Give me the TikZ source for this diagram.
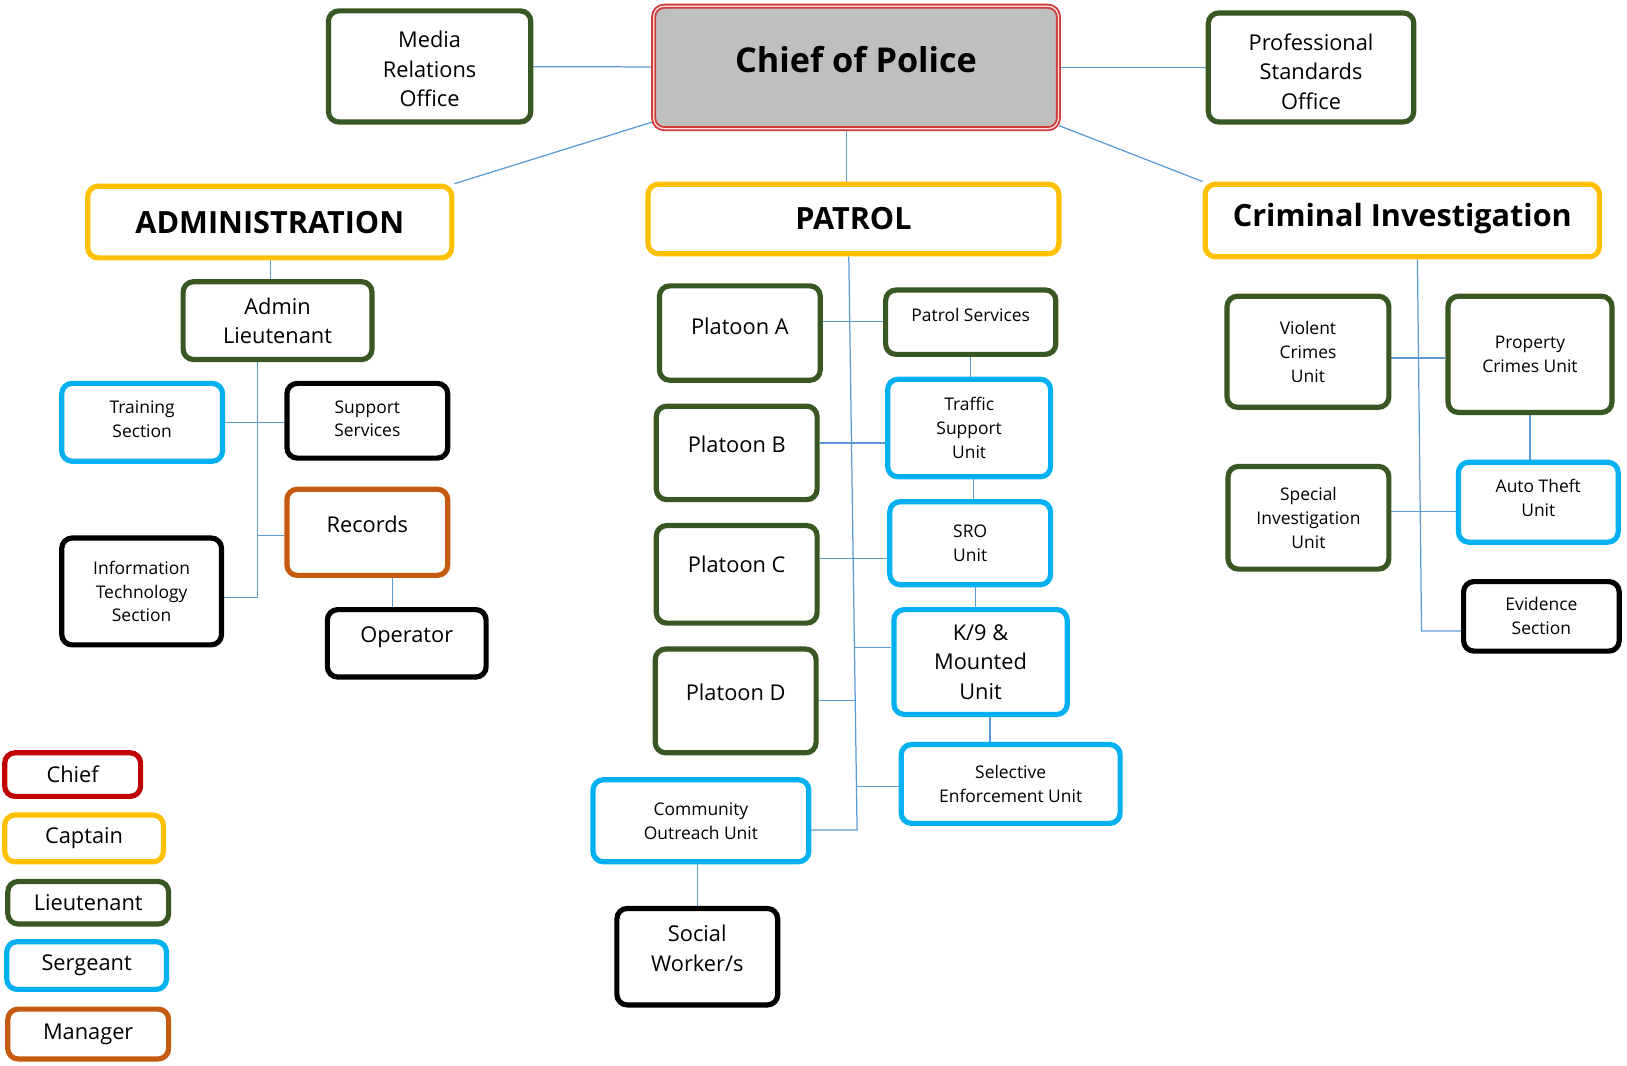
\documentclass[tikz,border=0pt]{standalone}
\usepackage{fontspec}
\setmainfont{Open Sans}
\usetikzlibrary{calc,backgrounds}

\definecolor{chiefred}{HTML}{D03A3A}
\definecolor{legendred}{HTML}{C00000}
\definecolor{cptyellow}{HTML}{FFC000}
\definecolor{ltgreen}{HTML}{385723}
\definecolor{sgtblue}{HTML}{00B0F0}
\definecolor{mgrorange}{HTML}{C55A11}
\definecolor{linkblue}{HTML}{5B9BD5}
\definecolor{chiefgray}{HTML}{BFBFBF}

\tikzset{
	unit/.style={rounded corners=10pt, line width=5pt, fill=white, inner sep=0pt, align=center},
	chiefbox/.style={unit, draw=chiefred, line width=1.8pt, double=white!85!chiefred, double distance=1.2pt, fill=chiefgray},
	ltbox/.style={unit, draw=ltgreen},
	cptbox/.style={unit, draw=cptyellow},
	sgtbox/.style={unit, draw=sgtblue},
	mgrbox/.style={unit, draw=mgrorange},
	civbox/.style={unit, draw=black},
	link/.style={draw=linkblue, line width=1.2pt},
	bigtxt/.style={font=\fontsize{21}{28.5}\selectfont},
	smalltxt/.style={font=\fontsize{16.8}{23}\selectfont},
	headtxt/.style={font=\bfseries\fontsize{29.5}{34}\selectfont},
	lift/.style={text depth=#1},
}

\begin{document}
\begin{tikzpicture}[x=1pt,y=1pt,yscale=-1,xscale=1]
			\useasboundingbox (0,0) rectangle (1568,1027);
			
			%Rounded Rect: Chief of Police
			\node[chiefbox, font=\bfseries\fontsize{33}{38}\selectfont, minimum width=390, minimum height=118, lift=16] (chief) at (825,65) {Chief of Police};
			%Rounded Rect: Media Relations Office
			\node[ltbox, bigtxt, minimum width=195, minimum height=107, text height=78] (media) at (414,64) {Media\\Relations\\Office};
			%Rounded Rect: Professional Standards Office
			\node[ltbox, bigtxt, minimum width=198, minimum height=105, text height=81] (prof) at (1263.5,65) {Professional\\Standards\\Office};
			
			%Rounded Rect: ADMINISTRATION
			\node[cptbox, headtxt, minimum width=351, minimum height=69] (admin) at (260,214) {ADMINISTRATION};
			%Rounded Rect: PATROL
			\node[cptbox, headtxt, minimum width=396, minimum height=67] (patrol) at (822.5,211) {PATROL};
			%Rounded Rect: Criminal Investigation
			\node[cptbox, headtxt, minimum width=380, minimum height=70, lift=11] (crim) at (1351.5,212.5) {Criminal Investigation};
			
			%Rounded Rect: Admin Lieutenant
			\node[ltbox, bigtxt, minimum width=182, minimum height=75] (adminlt) at (267.5,309) {Admin\\Lieutenant};
			%Rounded Rect: Training Section
			\node[sgtbox, smalltxt, minimum width=155, minimum height=75, lift=6] (train) at (137,407) {Training\\Section};
			%Rounded Rect: Support Services
			\node[civbox, smalltxt, minimum width=155, minimum height=72, lift=4] (support) at (354,405.5) {Support\\Services};
			%Rounded Rect: Records
			\node[mgrbox, bigtxt, minimum width=155, minimum height=83, lift=16] (records) at (354,513) {Records};
			%Rounded Rect: Information Technology Section
			\node[civbox, smalltxt, minimum width=154, minimum height=103] (itsec) at (136.5,570) {Information\\Technology\\Section};
			%Rounded Rect: Operator
			\node[civbox, bigtxt, minimum width=153, minimum height=65, lift=17] (oper) at (392,620) {Operator};
			
			%Rounded Rect: Platoon A
			\node[ltbox, bigtxt, minimum width=155, minimum height=91, lift=14] (pla) at (713,321) {Platoon A};
			%Rounded Rect: Patrol Services
			\node[ltbox, smalltxt, minimum width=164, minimum height=62, lift=15] (psvc) at (935.5,310.5) {Patrol Services};
			%Rounded Rect: Traffic Support Unit
			\node[sgtbox, smalltxt, minimum width=157, minimum height=94] (traffic) at (934,412.5) {Traffic\\Support\\Unit};
			%Rounded Rect: Platoon B
			\node[ltbox, bigtxt, minimum width=155, minimum height=90, lift=17] (plb) at (710,436.5) {Platoon B};
			%Rounded Rect: SRO Unit
			\node[sgtbox, smalltxt, minimum width=155, minimum height=80] (sro) at (935,523.5) {SRO\\Unit};
			%Rounded Rect: Platoon C
			\node[ltbox, bigtxt, minimum width=155, minimum height=94, lift=19] (plc) at (710,553.5) {Platoon C};
			%Rounded Rect: K/9 & Mounted Unit
			\node[sgtbox, bigtxt, minimum width=167, minimum height=101] (k9) at (945,638) {K/9 \&\\Mounted\\Unit};
			%Rounded Rect: Platoon D
			\node[ltbox, bigtxt, minimum width=155, minimum height=100, lift=17] (pld) at (709,675.5) {Platoon D};
			%Rounded Rect: Selective Enforcement Unit
			\node[sgtbox, smalltxt, minimum width=211, minimum height=76] (sel) at (974,755.5) {Selective\\Enforcement Unit};
			%Rounded Rect: Community Outreach Unit
			\node[sgtbox, smalltxt, minimum width=208, minimum height=79] (cou) at (675.5,791) {Community\\Outreach Unit};
			%Rounded Rect: Social Worker/s
			\node[civbox, bigtxt, minimum width=155, minimum height=93, lift=16] (social) at (672,922) {Social\\Worker/s};
			
			%Rounded Rect: Violent Crimes Unit
			\node[ltbox, smalltxt, minimum width=156, minimum height=107] (violent) at (1260.5,339) {Violent\\Crimes\\Unit};
			%Rounded Rect: Property Crimes Unit
			\node[ltbox, smalltxt, minimum width=158, minimum height=112] (property) at (1474.5,341.5) {Property\\Crimes Unit};
			%Rounded Rect: Special Investigation Unit
			\node[ltbox, smalltxt, minimum width=155, minimum height=99] (special) at (1261,499) {Special\\Investigation\\Unit};
			%Rounded Rect: Auto Theft Unit
			\node[sgtbox, smalltxt, minimum width=154, minimum height=77, lift=8] (auto) at (1482.5,484) {Auto Theft\\Unit};
			%Rounded Rect: Evidence Section
			\node[civbox, smalltxt, minimum width=150, minimum height=67] (evid) at (1485.5,594) {Evidence\\Section};
			
			%Rounded Rect: legend
			\node[unit, draw=legendred, bigtxt, minimum width=131, minimum height=42] (lgchief) at (70,746.5) {Chief};
			\node[cptbox, bigtxt, minimum width=153, minimum height=45] (lgcpt) at (81,808) {Captain};
			\node[ltbox, bigtxt, minimum width=155, minimum height=41] (lglt) at (85,870) {Lieutenant};
			\node[sgtbox, bigtxt, minimum width=154, minimum height=46] (lgsgt) at (83.5,930.5) {Sergeant};
			\node[mgrbox, bigtxt, minimum width=155, minimum height=48] (lgmgr) at (85,996.5) {Manager};
			
			\begin{scope}[on background layer]
			%Straight Lines: chief
			\draw[link] (media) -- (chief);
			\draw[link] (chief) -- (prof);
			\draw[link] (chief.195) -- (admin.north east);
			\draw[link] (chief.south -| 816,0) -- (patrol.north -| 816,0);
			\draw[link] (chief.344) -- (crim.north west);
			
			%Straight Lines: administration
			\coordinate (aspine) at (248,576);
			\draw[link] (admin.south -| 261,0) -- (adminlt.north -| 261,0);
			\draw[link] (adminlt.south -| aspine) -- (aspine) -- (itsec.east |- aspine);
			\draw[link] (train.east) -- (support.west |- train.east);
			\draw[link] (aspine |- 0,516) -- (records.west |- 0,516);
			\draw[link] (records.south -| 378,0) -- (oper.north -| 378,0);
			
			%Straight Lines: patrol
			\coordinate (pspine) at (826,800);
			\coordinate (sk9) at (823.5,624);
			\coordinate (spld) at (824.2,675);
			\coordinate (ssel) at (825.4,758);
			\draw[link] (patrol.south -| 818,0) -- (pspine) -- (cou.east |- pspine);
			\draw[link] (pla.east |- 0,310) -- (psvc.west |- 0,310);
			\draw[link] (psvc.south) -- (psvc.south |- traffic.north);
			\draw[link] (plb.east |- 0,427) -- (traffic.west |- 0,427);
			\draw[link] (traffic.south -| 938,0) -- (sro.north -| 938,0);
			\draw[link] (plc.east |- 0,538) -- (sro.west |- 0,538);
			\draw[link] (sro.south -| 940,0) -- (k9.north -| 940,0);
			\draw[link] (sk9) -- (k9.west |- sk9);
			\draw[link] (pld.east |- spld) -- (spld);
			\draw[link] (k9.south -| 954,0) -- (sel.north -| 954,0);
			\draw[link] (ssel) -- (sel.west |- ssel);
			\draw[link] (cou.south -| social.north) -- (social.north);
			
			%Straight Lines: criminal investigation
			\coordinate (cspine) at (1370,608);
			\draw[link] (crim.south -| 1366,0) -- (cspine) -- (evid.west |- cspine);
			\draw[link] (violent.east |- 0,345) -- (property.west |- 0,345);
			\draw[link] (property.south) -- (property.south |- auto.north);
			\draw[link] (special.east |- 0,493) -- (auto.west |- 0,493);
			\end{scope}
			
\end{tikzpicture}
\end{document}
